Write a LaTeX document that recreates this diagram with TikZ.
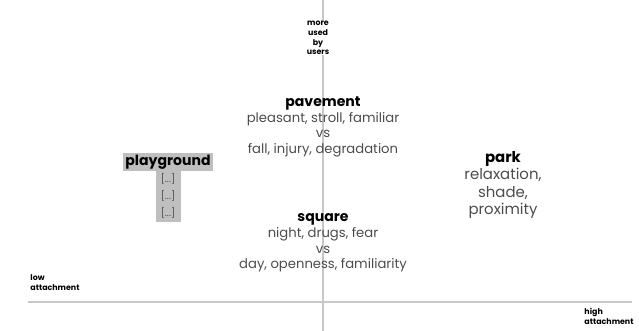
\documentclass[tikz,border=0pt]{standalone}
\usepackage{fontspec}
\setmainfont{Poppins}

\begin{document}
\begin{tikzpicture}
    [x=0.02cm,y=-0.02cm,
     place/.style={align=center,font=\fontsize{7.5}{8.9}\selectfont,text=black!70,inner sep=0pt},
     title/.style={font=\fontsize{8}{9}\selectfont\bfseries,text=black},
     axislabel/.style={align=center,font=\fontsize{4.5}{5.6}\selectfont\bfseries,inner sep=0pt},
     tag/.style={fill=black!25,inner sep=0pt,minimum width=25*0.02cm,minimum height=17*0.02cm,
       font=\fontsize{5.5}{6}\selectfont,text=black!70},
     axis/.style={draw=black!22,line width=0.9pt}]
    \useasboundingbox (0,0) rectangle (639,331);
    % axes
    \coordinate (xl) at (28,302);
    \coordinate (xr) at (632,302);
    \coordinate (yt) at (323,0);
    \coordinate (yb) at (323,331);
    \draw[axis] (xl) -- (xr) ;
    \draw[axis] (yt) -- (yb) ;
    % axis labels
    \node[axislabel,fill=white] (top) at (318,38) {more\\used\\by\\users};
    \node[axislabel,align=left] (left) at (55,283) {low\\attachment};
    \node[axislabel,align=left] (right) at (609,316) {high\\attachment};
    % places
    \node[place] (pav) at (323,127) {\textbf{\textcolor{black}{\fontsize{8}{8.9}\selectfont pavement}}\\pleasant, stroll, familiar\\vs\\fall, injury, degradation};
    \node[place] (sqr) at (323,243) {\textbf{\textcolor{black}{\fontsize{8}{8.9}\selectfont square}}\\night, drugs, fear\\vs\\day, openness, familiarity};
    \node[place,font=\fontsize{8.5}{10}\selectfont] (park) at (503,185) {\textbf{\textcolor{black}{park}}\\relaxation,\\shade,\\proximity};
    \node[title,fill=black!25,inner sep=1.2pt] (play) at (168,162) {playground};
    \node[tag] (p1) at (168,179) {[...]};
    \node[tag] (p2) at (168,196) {[...]};
    \node[tag] (p3) at (168,213) {[...]};
  \end{tikzpicture}
\end{document}
